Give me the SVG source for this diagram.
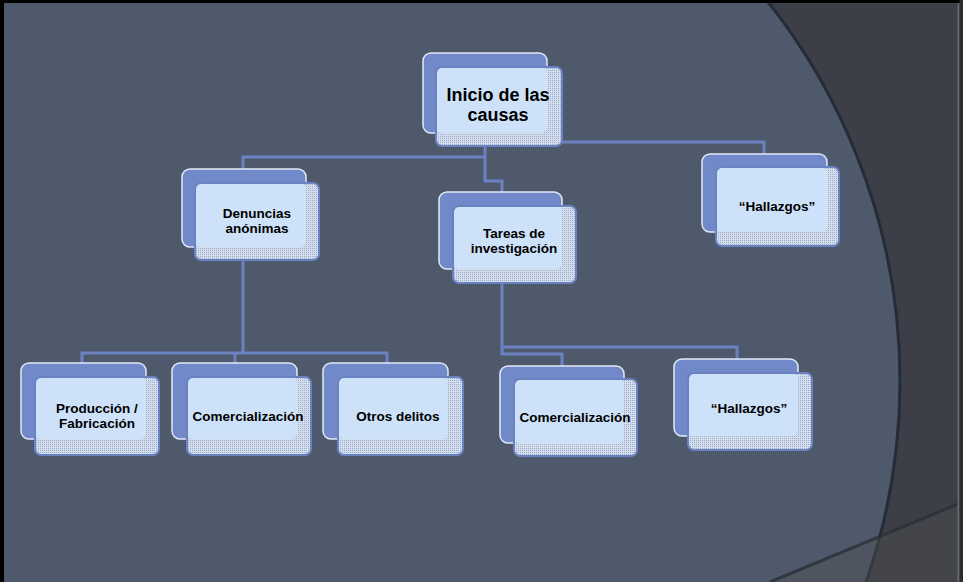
<svg xmlns="http://www.w3.org/2000/svg" width="963" height="582" viewBox="0 0 963 582">
<defs>
<pattern id="dots" width="2" height="2" patternUnits="userSpaceOnUse">
<rect width="2" height="2" fill="#d3dff0"/>
<rect width="1" height="1" fill="#9eabc0"/>
</pattern>
<style>
.back{fill:#7189c9;stroke:#e2e9f6;stroke-width:1.5}
.front{fill:url(#dots);stroke:none}
.lit{fill:#cde2f8}
.frame{fill:none;stroke:#6b82c2;stroke-width:2}
.conn{fill:none;stroke:#6b81c2;stroke-width:3;stroke-linejoin:miter}
.t{font-family:"Liberation Sans",Arial,sans-serif;font-weight:bold;fill:#000;text-anchor:middle}
.s{font-size:13.5px}
.l{font-size:18px}
</style>
</defs>
<!-- background -->
<rect x="0" y="0" width="963" height="582" fill="#3c3f47"/>
<circle cx="290" cy="381" r="610" fill="#4e596b" stroke="#262c37" stroke-width="3"/>
<polygon points="770,582 963,502 963,582" fill="#505050" fill-opacity="0.4"/>
<line x1="770" y1="582" x2="963" y2="502" stroke="#2b2f37" stroke-width="3" stroke-opacity="0.8"/>
<rect x="0" y="0" width="963" height="3" fill="#000"/>
<rect x="0" y="0" width="4" height="582" fill="#000"/>
<rect x="957.5" y="3" width="2" height="579" fill="#666a72"/>
<rect x="959.5" y="0" width="3.5" height="582" fill="#2c2e32"/>

<g id="connectors">
<polyline class="conn" points="485,146 485,181 502,181 502,192"/>
<polyline class="conn" points="485,157 243,157 243,169"/>
<polyline class="conn" points="562,142 764,142 764,154"/>
<polyline class="conn" points="243,260 243,353"/>
<polyline class="conn" points="82,363 82,353 387,353 387,363"/>
<polyline class="conn" points="235,353 235,363"/>
<polyline class="conn" points="502,283 502,354 562,354 562,366"/>
<polyline class="conn" points="502,347 737,347 737,359"/>
</g>

<g id="n-inicio">
<rect class="back" x="423" y="53" width="124" height="80" rx="8"/>
<rect class="front" x="436" y="67" width="126" height="79" rx="6"/>
<rect class="lit" x="436" y="67" width="111" height="66" rx="6"/>
<rect class="frame" x="436" y="67" width="126" height="79" rx="6"/>
<text class="t l" x="498" y="101">Inicio de las</text>
<text class="t l" x="498" y="121">causas</text>
</g>

<g id="n-denuncias">
<rect class="back" x="182" y="169" width="124" height="78" rx="8"/>
<rect class="front" x="195" y="183" width="124" height="77" rx="6"/>
<rect class="lit" x="195" y="183" width="111" height="64" rx="6"/>
<rect class="frame" x="195" y="183" width="124" height="77" rx="6"/>
<text class="t s" x="257" y="218">Denuncias</text>
<text class="t s" x="257" y="233">anónimas</text>
</g>

<g id="n-tareas">
<rect class="back" x="439" y="192" width="123" height="77" rx="8"/>
<rect class="front" x="453" y="206" width="123" height="77" rx="6"/>
<rect class="lit" x="453" y="206" width="109" height="63" rx="6"/>
<rect class="frame" x="453" y="206" width="123" height="77" rx="6"/>
<text class="t s" x="514" y="238">Tareas de</text>
<text class="t s" x="514" y="253">investigación</text>
</g>

<g id="n-hallazgos1">
<rect class="back" x="702" y="154" width="125" height="78" rx="8"/>
<rect class="front" x="716" y="167" width="123" height="79" rx="6"/>
<rect class="lit" x="716" y="167" width="111" height="65" rx="6"/>
<rect class="frame" x="716" y="167" width="123" height="79" rx="6"/>
<text class="t s" x="777" y="211">“Hallazgos”</text>
</g>

<g id="n-produccion">
<rect class="back" x="21" y="363" width="125" height="76" rx="8"/>
<rect class="front" x="35" y="377" width="124" height="78" rx="6"/>
<rect class="lit" x="35" y="377" width="111" height="62" rx="6"/>
<rect class="frame" x="35" y="377" width="124" height="78" rx="6"/>
<text class="t s" x="97" y="413">Producción /</text>
<text class="t s" x="97" y="428">Fabricación</text>
</g>

<g id="n-comercializacion1">
<rect class="back" x="172" y="363" width="125" height="76" rx="8"/>
<rect class="front" x="187" y="377" width="124" height="78" rx="6"/>
<rect class="lit" x="187" y="377" width="110" height="62" rx="6"/>
<rect class="frame" x="187" y="377" width="124" height="78" rx="6"/>
<text class="t s" x="248" y="421">Comercialización</text>
</g>

<g id="n-otros">
<rect class="back" x="323" y="363" width="125" height="76" rx="8"/>
<rect class="front" x="338" y="377" width="125" height="78" rx="6"/>
<rect class="lit" x="338" y="377" width="110" height="62" rx="6"/>
<rect class="frame" x="338" y="377" width="125" height="78" rx="6"/>
<text class="t s" x="398" y="421">Otros delitos</text>
</g>

<g id="n-comercializacion2">
<rect class="back" x="500" y="366" width="124" height="77" rx="8"/>
<rect class="front" x="514" y="379" width="123" height="77" rx="6"/>
<rect class="lit" x="514" y="379" width="110" height="64" rx="6"/>
<rect class="frame" x="514" y="379" width="123" height="77" rx="6"/>
<text class="t s" x="575" y="422">Comercialización</text>
</g>

<g id="n-hallazgos2">
<rect class="back" x="674" y="359" width="124" height="77" rx="8"/>
<rect class="front" x="688" y="373" width="124" height="77" rx="6"/>
<rect class="lit" x="688" y="373" width="110" height="63" rx="6"/>
<rect class="frame" x="688" y="373" width="124" height="77" rx="6"/>
<text class="t s" x="749" y="413">“Hallazgos”</text>
</g>
</svg>
